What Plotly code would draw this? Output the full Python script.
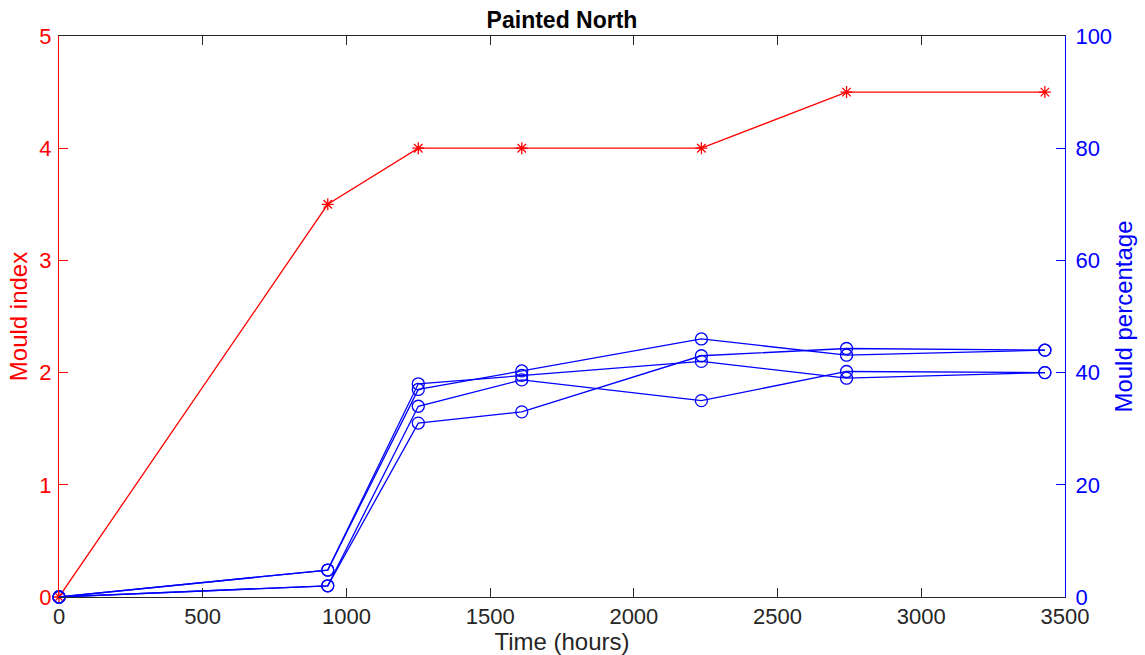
import plotly.graph_objects as go

hours = [0, 935, 1250, 1610, 2235, 2740, 3430]
mould_index = [0, 3.5, 4, 4, 4, 4.5, 4.5]
pct_a = [0, 4.8, 37, 40.3, 46, 43.1, 44]
pct_b = [0, 4.8, 38, 39.5, 42, 39, 40]
pct_c = [0, 2, 34, 38.7, 35, 40.2, 40]
pct_d = [0, 2, 31, 33, 43, 44.3, 44]

x_ticks = [0, 500, 1000, 1500, 2000, 2500, 3000, 3500]
left_ticks = [0, 1, 2, 3, 4, 5]
right_ticks = [0, 20, 40, 60, 80, 100]

RED = "#ff0000"
BLUE = "#0000ff"
FONT = "Liberation Sans, Arial, Helvetica, sans-serif"

fig = go.Figure()

fig.add_trace(go.Scatter(
    x=hours, y=mould_index, mode="lines+markers", yaxis="y",
    line=dict(color=RED, width=1.3),
    marker=dict(symbol="asterisk-open", size=10, line=dict(color=RED, width=1.3), color=RED),
    cliponaxis=False, showlegend=False))

for s in [pct_a, pct_b, pct_c, pct_d]:
    fig.add_trace(go.Scatter(
        x=hours, y=s, mode="lines+markers", yaxis="y2",
        line=dict(color=BLUE, width=1.3),
        marker=dict(symbol="circle-open", size=12, line=dict(color=BLUE, width=1.3), color=BLUE),
        cliponaxis=False, showlegend=False))

fig.update_layout(
    width=1145, height=655,
    margin=dict(l=59, r=80, t=36, b=58),
    paper_bgcolor="white", plot_bgcolor="white",
    font=dict(family=FONT, size=22, color="#262626"),
    title=dict(text="<b>Painted North</b>", x=562/1145, xanchor="center",
               y=1 - 20/655, yanchor="middle", font=dict(size=23, color="black")),
    xaxis=dict(range=[0, 3500], tickvals=x_ticks, ticks="inside", ticklen=9,
               tickcolor="#262626", showline=True, linecolor="#262626", linewidth=1,
               mirror="ticks", showgrid=False, zeroline=False, automargin=False,
               title=dict(text="Time (hours)", standoff=0, font=dict(size=24)),
               tickfont=dict(size=22, color="#262626")),
    yaxis=dict(range=[0, 5], tickvals=left_ticks, ticks="inside", ticklen=9,
               tickcolor=RED, showline=True, linecolor=RED, linewidth=1,
               showgrid=False, zeroline=False, ticklabelstandoff=2, automargin=False,
               title=dict(text="Mould index", standoff=4, font=dict(size=24, color=RED)),
               tickfont=dict(size=22, color=RED)),
    yaxis2=dict(range=[0, 100], tickvals=right_ticks, ticks="inside", ticklen=9,
                tickcolor=BLUE, showline=True, linecolor=BLUE, linewidth=1,
                overlaying="y", side="right", showgrid=False, zeroline=False,
                ticklabelstandoff=5, automargin=False,
                title=dict(text="Mould percentage", standoff=4, font=dict(size=24, color=BLUE)),
                tickfont=dict(size=22, color=BLUE)),
)

fig.write_html("out.html")
